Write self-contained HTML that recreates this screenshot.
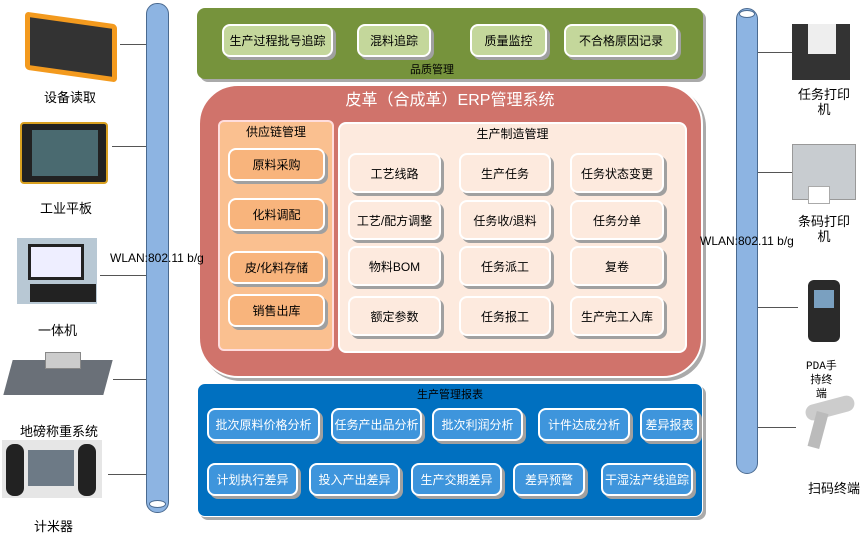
<!DOCTYPE html><html><head><meta charset="utf-8"><style>
body{margin:0;width:865px;height:538px;background:#fff;position:relative;overflow:hidden;font-family:"Liberation Sans","Noto Sans CJK SC",sans-serif;}
div{position:absolute;box-sizing:border-box}
.t{font-size:12px;color:#000;text-align:center;white-space:nowrap}
.d{font-size:13px}
.b{display:flex;align-items:center;justify-content:center;font-size:12px;white-space:nowrap;border-radius:8px;box-shadow:3px 3px 0 #a0a0a0}
.g{background:#c4d79b;border:2px solid #fff}
.o{background:#f8b47c;border:2px solid #fff}
.c{background:#fdeade;border:2px solid #fff}
.u{background:#3e95dc;border:2px solid #fff;color:#fff}
.ln{height:1px;background:#555}
.dev{border-radius:4px}
.w{z-index:5}
</style></head><body>
<!-- pillars -->
<div style="left:146px;top:3px;width:23px;height:510px;background:#8db4e2;border:1px solid #4a6a90;border-radius:11px"></div>
<div style="left:149px;top:500px;width:17px;height:8px;background:#fff;border:1px solid #4a6a90;border-radius:50%"></div>
<div style="left:736px;top:8px;width:22px;height:466px;background:#8db4e2;border:1px solid #4a6a90;border-radius:11px"></div>
<div style="left:739px;top:10px;width:16px;height:8px;background:#fff;border:1px solid #4a6a90;border-radius:50%"></div>
<!-- connectors -->
<div class="ln" style="left:120px;top:44px;width:26px"></div>
<div class="ln" style="left:112px;top:146px;width:34px"></div>
<div class="ln" style="left:100px;top:275px;width:46px"></div>
<div class="ln" style="left:113px;top:379px;width:33px"></div>
<div class="ln" style="left:108px;top:474px;width:38px"></div>
<div class="ln" style="left:758px;top:52px;width:36px"></div>
<div class="ln" style="left:758px;top:172px;width:34px"></div>
<div class="ln" style="left:758px;top:307px;width:40px"></div>
<div class="ln" style="left:758px;top:427px;width:38px"></div>
<!-- left devices -->
<div class="dev" style="left:25px;top:18px;width:92px;height:58px;background:#333;border:5px solid #f39a1e;transform:skewY(8deg)"></div>
<div class="t d" style="left:44px;top:87px">设备读取</div>
<div class="dev" style="left:20px;top:122px;width:88px;height:62px;background:#222;border:2px solid #d8a020"></div>
<div style="left:32px;top:130px;width:66px;height:46px;background:#4a6a70"></div>
<div class="t d" style="left:40px;top:198px">工业平板</div>
<div style="left:17px;top:238px;width:80px;height:66px;background:#b8c8d4"></div>
<div style="left:28px;top:244px;width:56px;height:36px;background:#eef;border:3px solid #222"></div>
<div style="left:30px;top:284px;width:66px;height:18px;background:#222"></div>
<div class="t d" style="left:38px;top:320px">一体机</div>
<div style="left:8px;top:360px;width:100px;height:35px;background:#6a7078;transform:skewX(-15deg)"></div>
<div style="left:45px;top:352px;width:36px;height:17px;background:#ccc;border:1px solid #888"></div>
<div class="t d" style="left:20px;top:421px">地磅称重系统</div>
<div style="left:2px;top:440px;width:100px;height:58px;background:#e6e6e6"></div>
<div style="left:6px;top:444px;width:18px;height:52px;background:#222;border-radius:8px"></div>
<div style="left:78px;top:444px;width:18px;height:52px;background:#222;border-radius:8px"></div>
<div style="left:28px;top:450px;width:46px;height:36px;background:#6d7a86"></div>
<div class="t d" style="left:34px;top:516px">计米器</div>
<!-- right devices -->
<div style="left:792px;top:24px;width:58px;height:56px;background:#333"></div>
<div style="left:808px;top:24px;width:28px;height:30px;background:#eee"></div>
<div class="t" style="left:798px;top:87px;line-height:15px;font-size:13px">任务打印<br>机</div>
<div style="left:792px;top:144px;width:64px;height:56px;background:#c8ccd0;border:1px solid #999"></div>
<div style="left:808px;top:186px;width:22px;height:18px;background:#fff;border:1px solid #aaa"></div>
<div class="t" style="left:798px;top:214px;line-height:15px;font-size:13px">条码打印<br>机</div>
<div style="left:808px;top:280px;width:32px;height:62px;background:#2a2a2a;border-radius:6px"></div>
<div style="left:814px;top:290px;width:20px;height:18px;background:#7aa0c0"></div>
<div class="t" style="left:806px;top:360px;line-height:14px;font-family:'Liberation Mono','Noto Sans CJK SC',monospace;font-size:11px">PDA手<br>持终<br>端</div>
<div style="left:805px;top:400px;width:50px;height:16px;background:#ccc;border-radius:8px;transform:rotate(-15deg)"></div>
<div style="left:812px;top:412px;width:12px;height:36px;background:#bbb;transform:rotate(15deg)"></div>
<div class="t d" style="left:808px;top:478px">扫码终端</div>
<!-- green -->
<div style="left:197px;top:8px;width:506px;height:71px;background:#76933c;border-radius:8px;box-shadow:3px 3px 0 #aaa"></div>
<div class="b g" style="left:222px;top:24px;width:111px;height:33px">生产过程批号追踪</div>
<div class="b g" style="left:357px;top:24px;width:74px;height:33px">混料追踪</div>
<div class="b g" style="left:470px;top:24px;width:77px;height:33px">质量监控</div>
<div class="b g" style="left:564px;top:24px;width:114px;height:33px">不合格原因记录</div>
<div class="t" style="left:410px;top:61px;font-size:11px">品质管理</div>
<!-- red -->
<div style="left:198px;top:84px;width:505px;height:294px;background:#d0736b;border:2px solid #fff;border-radius:40px;box-shadow:3px 3px 0 #aaa"></div>
<div class="t" style="left:300px;top:86px;width:300px;color:#fff;font-size:16px">皮革（合成革）ERP管理系统</div>
<div style="left:218px;top:120px;width:116px;height:231px;background:#fac090;border:2px solid #fdd;border-radius:6px"></div>
<div class="t" style="left:218px;top:123px;width:116px">供应链管理</div>
<div class="b o" style="left:228px;top:148px;width:97px;height:33px">原料采购</div>
<div class="b o" style="left:228px;top:198px;width:97px;height:33px">化料调配</div>
<div class="b o" style="left:228px;top:251px;width:97px;height:33px">皮/化料存储</div>
<div class="b o" style="left:228px;top:294px;width:97px;height:33px">销售出库</div>
<div style="left:338px;top:122px;width:349px;height:231px;background:#fdeade;border:2px solid #fff;border-radius:8px"></div>
<div class="t" style="left:338px;top:125px;width:349px">生产制造管理</div>
<div class="b c" style="left:348px;top:153px;width:93px;height:40px">工艺线路</div>
<div class="b c" style="left:459px;top:153px;width:92px;height:40px">生产任务</div>
<div class="b c" style="left:570px;top:153px;width:94px;height:40px">任务状态变更</div>
<div class="b c" style="left:348px;top:200px;width:93px;height:40px">工艺/配方调整</div>
<div class="b c" style="left:459px;top:200px;width:92px;height:40px">任务收/退料</div>
<div class="b c" style="left:570px;top:200px;width:94px;height:40px">任务分单</div>
<div class="b c" style="left:348px;top:246px;width:93px;height:40px">物料BOM</div>
<div class="b c" style="left:459px;top:246px;width:92px;height:40px">任务派工</div>
<div class="b c" style="left:570px;top:246px;width:94px;height:40px">复卷</div>
<div class="b c" style="left:348px;top:296px;width:93px;height:40px">额定参数</div>
<div class="b c" style="left:459px;top:296px;width:92px;height:40px">任务报工</div>
<div class="b c" style="left:570px;top:296px;width:94px;height:40px">生产完工入库</div>
<!-- blue -->
<div style="left:197px;top:383px;width:506px;height:134px;background:#0070c0;border:1px solid #fff;border-radius:8px;box-shadow:3px 3px 0 #aaa"></div>
<div class="t" style="left:197px;top:386px;width:506px;font-size:11px">生产管理报表</div>
<div class="b u" style="left:207px;top:408px;width:113px;height:33px">批次原料价格分析</div>
<div class="b u" style="left:331px;top:408px;width:91px;height:33px">任务产出品分析</div>
<div class="b u" style="left:432px;top:408px;width:91px;height:33px">批次利润分析</div>
<div class="b u" style="left:538px;top:408px;width:92px;height:33px">计件达成分析</div>
<div class="b u" style="left:640px;top:408px;width:59px;height:33px">差异报表</div>
<div class="b u" style="left:207px;top:463px;width:91px;height:33px">计划执行差异</div>
<div class="b u" style="left:309px;top:463px;width:91px;height:33px">投入产出差异</div>
<div class="b u" style="left:411px;top:463px;width:91px;height:33px">生产交期差异</div>
<div class="b u" style="left:513px;top:463px;width:72px;height:33px">差异预警</div>
<div class="b u" style="left:601px;top:463px;width:92px;height:33px">干湿法产线追踪</div>
<div class="t w" style="left:110px;top:251px">WLAN:802.11 b/g</div>
<div class="t w" style="left:700px;top:234px">WLAN:802.11 b/g</div>
</body></html>
